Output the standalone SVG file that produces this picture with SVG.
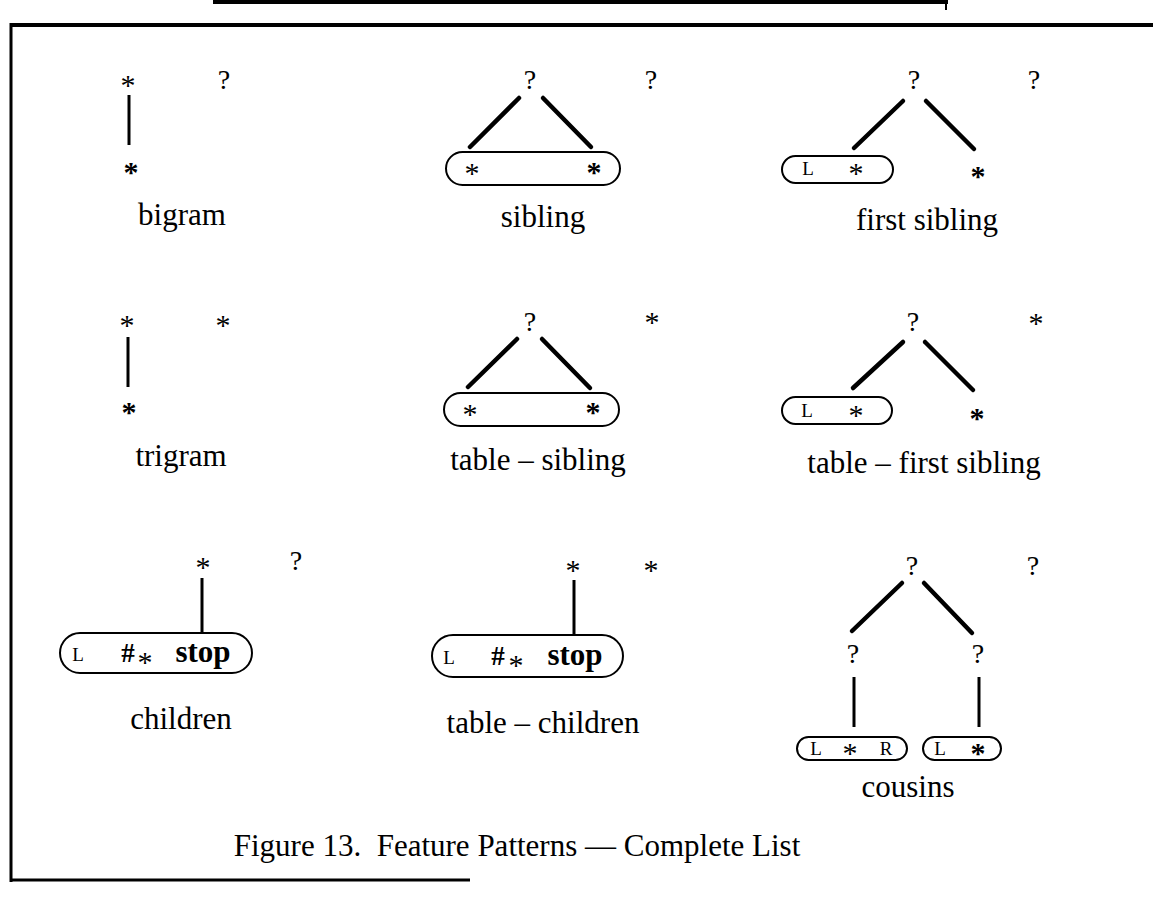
<svg xmlns="http://www.w3.org/2000/svg" width="1153" height="911" viewBox="0 0 1153 911">
<style>
text{font-family:"Liberation Serif","Times New Roman",serif;fill:#000}
.lab{font-size:31px;text-anchor:middle}
.q{font-size:28px;text-anchor:middle}
.s{font-size:30px;text-anchor:middle}
.sb{font-size:30px;font-weight:bold;text-anchor:middle}
.sm{font-size:19px;text-anchor:middle}
.stop{font-size:31px;font-weight:bold;text-anchor:middle}
.hash{font-size:27px;font-weight:bold;text-anchor:middle}
.e{stroke:#000;stroke-width:4.5;stroke-linecap:round;fill:none}
.v{stroke:#000;stroke-width:3;stroke-linecap:butt;fill:none}
.box{fill:none;stroke:#000;stroke-width:2}
.frame{stroke:#000;fill:none}
</style>
<rect width="1153" height="911" fill="#fff"/>
<g id="frame">
<line class="frame" x1="213" y1="2" x2="948" y2="2" stroke-width="4"/>
<line class="frame" x1="946" y1="0" x2="946" y2="10" stroke-width="2"/>
<line class="frame" x1="10" y1="25" x2="1153" y2="25" stroke-width="4"/>
<line class="frame" x1="11" y1="23" x2="11" y2="882" stroke-width="3"/>
<line class="frame" x1="10" y1="880" x2="470" y2="880" stroke-width="3"/>
</g>
<g id="connectors">
<line class="v" x1="129" y1="95" x2="129" y2="145"/>
<line class="e" x1="519" y1="98" x2="470" y2="147"/>
<line class="e" x1="543" y1="98" x2="591" y2="147"/>
<line class="e" x1="903" y1="101" x2="854" y2="148"/>
<line class="e" x1="926" y1="101" x2="974" y2="149"/>
<line class="v" x1="128" y1="337" x2="128" y2="387"/>
<line class="e" x1="517" y1="339" x2="468" y2="387"/>
<line class="e" x1="542" y1="339" x2="590" y2="388"/>
<line class="e" x1="903" y1="342" x2="853" y2="388"/>
<line class="e" x1="925" y1="342" x2="973" y2="390"/>
<line class="v" x1="202" y1="578" x2="202" y2="633"/>
<line class="v" x1="574" y1="580" x2="574" y2="635"/>
<line class="e" x1="902" y1="583" x2="852" y2="631"/>
<line class="e" x1="924" y1="583" x2="972" y2="633"/>
<line class="v" x1="854" y1="677" x2="854" y2="727"/>
<line class="v" x1="979" y1="677" x2="979" y2="727"/>
</g>
<g id="bigram">
<text class="s" x="128" y="95">*</text>
<text class="q" x="224" y="89">?</text>
<text class="sb" x="131" y="182">*</text>
<text class="lab" x="182" y="225">bigram</text>
</g>
<g id="sibling">
<text class="q" x="530" y="89">?</text>
<text class="q" x="651" y="89">?</text>
<rect class="box" x="446" y="152" width="174" height="33" rx="16.5"/>
<text class="s" x="472" y="183">*</text>
<text class="sb" x="594" y="182">*</text>
<text class="lab" x="543" y="227">sibling</text>
</g>
<g id="first-sibling">
<text class="q" x="914" y="89">?</text>
<text class="q" x="1034" y="89">?</text>
<rect class="box" x="782" y="156" width="111" height="27" rx="13.5"/>
<text class="sm" x="808" y="175">L</text>
<text class="s" x="856" y="183">*</text>
<text class="sb" x="978" y="186">*</text>
<text class="lab" x="927" y="230">first sibling</text>
</g>
<g id="trigram">
<text class="s" x="127" y="335">*</text>
<text class="s" x="223" y="335">*</text>
<text class="sb" x="129" y="422">*</text>
<text class="lab" x="181" y="466">trigram</text>
</g>
<g id="table-sibling">
<text class="q" x="530" y="331">?</text>
<text class="s" x="652" y="332">*</text>
<rect class="box" x="444" y="393" width="175" height="33" rx="16.5"/>
<text class="s" x="470" y="424">*</text>
<text class="sb" x="593" y="422">*</text>
<text class="lab" x="538" y="470">table – sibling</text>
</g>
<g id="table-first-sibling">
<text class="q" x="913" y="331">?</text>
<text class="s" x="1036" y="333">*</text>
<rect class="box" x="782" y="397" width="110" height="27" rx="13.5"/>
<text class="sm" x="807" y="417">L</text>
<text class="s" x="856" y="425">*</text>
<text class="sb" x="977" y="428">*</text>
<text class="lab" x="924" y="473">table – first sibling</text>
</g>
<g id="children">
<text class="s" x="203" y="577">*</text>
<text class="q" x="296" y="570">?</text>
<rect class="box" x="60" y="633" width="192" height="40" rx="20"/>
<text class="sm" x="78" y="661">L</text>
<text class="hash" x="128" y="662">#</text>
<text class="s" x="145" y="672">*</text>
<text class="stop" x="203" y="662">stop</text>
<text class="lab" x="181" y="729">children</text>
</g>
<g id="table-children">
<text class="s" x="573" y="580">*</text>
<text class="s" x="651" y="580">*</text>
<rect class="box" x="432" y="635" width="191" height="42" rx="21"/>
<text class="sm" x="449" y="664">L</text>
<text class="hash" x="498" y="665">#</text>
<text class="s" x="516" y="675">*</text>
<text class="stop" x="575" y="665">stop</text>
<text class="lab" x="543" y="733">table – children</text>
</g>
<g id="cousins">
<text class="q" x="912" y="575">?</text>
<text class="q" x="1033" y="575">?</text>
<text class="q" x="853" y="663">?</text>
<text class="q" x="978" y="663">?</text>
<rect class="box" x="797" y="737" width="110" height="23" rx="11.5"/>
<text class="sm" x="816" y="755">L</text>
<text class="s" x="850" y="763">*</text>
<text class="sm" x="886" y="755">R</text>
<rect class="box" x="923" y="737" width="78" height="23" rx="11.5"/>
<text class="sm" x="940" y="755">L</text>
<text class="sb" x="978" y="763">*</text>
<text class="lab" x="908" y="797">cousins</text>
</g>
<g id="caption">
<text class="lab" x="517" y="856">Figure 13.&#160; Feature Patterns — Complete List</text>
</g>
</svg>
